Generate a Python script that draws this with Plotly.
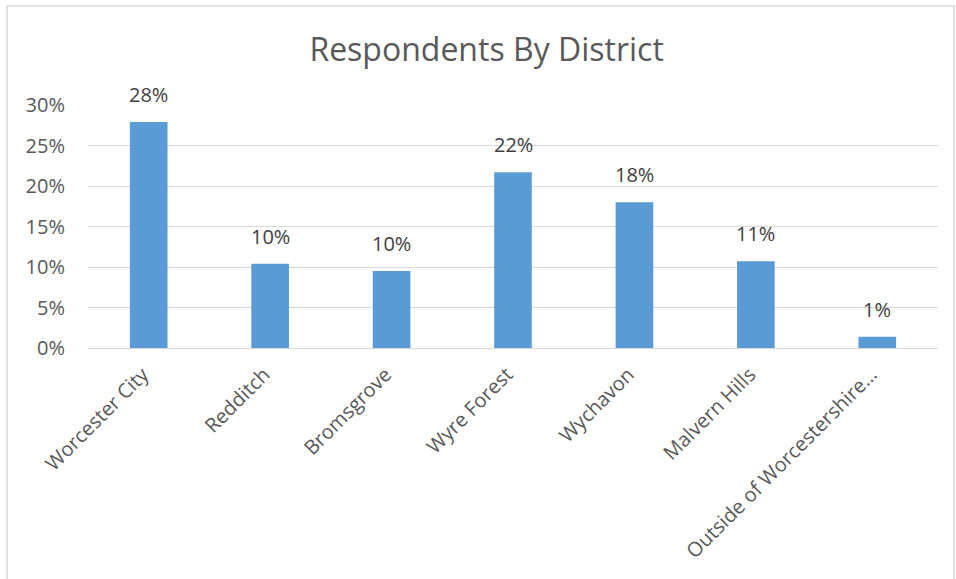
import plotly.graph_objects as go

districts = ["Worcester City", "Redditch", "Bromsgrove", "Wyre Forest", "Wychavon",
             "Malvern Hills", "Outside of Worcestershire…"]
shares = [0.279, 0.104, 0.095, 0.217, 0.180, 0.107, 0.014]
labels = ["28%", "10%", "10%", "22%", "18%", "11%", "1%"]
y_ticks = [0, 0.05, 0.10, 0.15, 0.20, 0.25, 0.30]
y_tick_text = ["0%", "5%", "10%", "15%", "20%", "25%", "30%"]

W, H = 956, 579
L, R, T, B = 88, 938, 105, 348
FONT = "Open Sans, sans-serif"

fig = go.Figure(go.Bar(
    x=districts, y=shares,
    marker=dict(color="#5B9BD5", line=dict(width=0)),
    hoverinfo="x+y",
))

for d, v, t in zip(districts, shares, labels):
    fig.add_annotation(x=d, y=v, text=t, showarrow=False, yanchor="bottom", yshift=12,
                       font=dict(family=FONT, size=20, color="#404040"))

def px_x(p):
    return (p - L) / (R - L)

def px_y(p):
    return (B - p) / (B - T)

fig.update_layout(
    width=W, height=H,
    margin=dict(l=L, r=W - R, t=T, b=H - B, autoexpand=False),
    paper_bgcolor="white", plot_bgcolor="white",
    bargap=0.69,
    showlegend=False,
    title=dict(text="Respondents By District", x=0.509, xanchor="center", y=1 - 50 / H, yanchor="middle",
               font=dict(family=FONT, size=32, color="#595959")),
    xaxis=dict(tickangle=-45, showgrid=False, showline=True, linecolor="#d9d9d9", linewidth=1,
               ticks="", ticklabelstandoff=6, ticklabelshift=-6,
               tickfont=dict(family=FONT, size=20, color="#595959")),
    yaxis=dict(range=[0, 0.30], tickvals=y_ticks, ticktext=y_tick_text, showgrid=True,
               gridcolor="#d9d9d9", gridwidth=1, zeroline=False, showline=False, ticks="",
               ticklabelstandoff=22,
               tickfont=dict(family=FONT, size=20, color="#595959")),
    shapes=[dict(type="rect", xref="paper", yref="paper",
                 x0=px_x(7), x1=px_x(954), y0=px_y(582), y1=px_y(6),
                 line=dict(color="#d9d9d9", width=1.5), fillcolor="rgba(0,0,0,0)", layer="below")],
)

fig.write_html("out.html", config={"displayModeBar": False},
               post_script="document.body.style.margin='0';")
